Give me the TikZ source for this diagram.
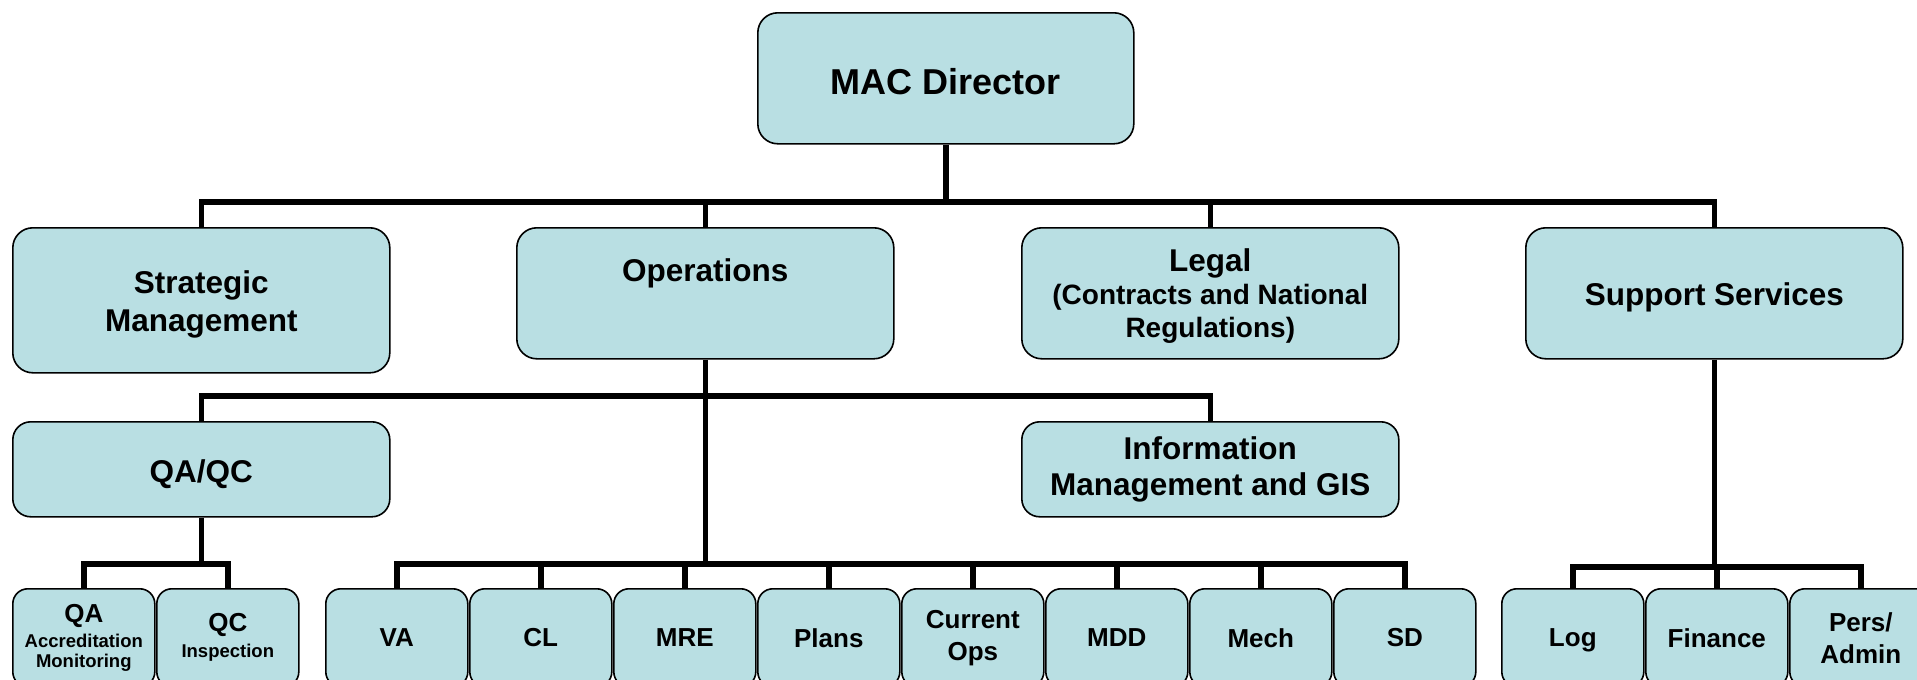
\documentclass[tikz,border=0pt]{standalone}
\usepackage{fontspec}
\setmainfont{Liberation Sans}
\definecolor{boxc}{RGB}{185,223,227}
\tikzset{
  box/.style={draw=black, line width=1.6pt, fill=boxc, inner sep=0pt, align=center, text=black, anchor=north west},
  bigbox/.style={box, rounded corners=20pt, minimum width=377pt, minimum height=131pt, font={\fontsize{31.5}{38}\selectfont\bfseries}},
  midbox/.style={box, rounded corners=18pt, minimum width=377pt, minimum height=95pt, font={\fontsize{31.5}{36}\selectfont\bfseries}},
  smallbox/.style={box, rounded corners=15pt, minimum width=142pt, minimum height=98pt, font={\fontsize{26}{32}\selectfont\bfseries}},
  conn/.style={line width=5.5pt, line join=miter, black}
}
\begin{document}
\begin{tikzpicture}[x=1pt, y=-1pt]
\useasboundingbox (0,0) rectangle (1917,680);
\clip (0,0) rectangle (1917,680);
\fill[white] (0,0) rectangle (1917,680);
% level 1
\node[bigbox, font={\fontsize{36}{40}\selectfont\bfseries}, minimum width=376pt, text height=32pt, text depth=0pt] (mac) at (757,12) {MAC Director};
% level 2
\node[bigbox, minimum height=145pt] (strat) at (12,227) {\rule{0pt}{31.5pt}Strategic\\Management};
\node[bigbox] (ops) at (516,227) {Operations\\\rule[-8pt]{0pt}{0pt}};
\node[bigbox, font={\fontsize{28}{33}\selectfont\bfseries}] (legal) at (1021,227) {{\fontsize{31.5}{33}\selectfont\rule{0pt}{29pt}Legal}\\(Contracts and National\\Regulations)};
\node[bigbox, text height=31pt, text depth=6.6pt] (support) at (1525,227) {Support Services};
% level 3
\node[midbox, text height=28pt, text depth=1.5pt] (qaqc) at (12,421) {QA/QC};
\node[midbox] (info) at (1021,421) {Information\\Management and GIS};
% level 4
\node[smallbox, font={\fontsize{18.5}{20}\selectfont\bfseries}] (qa) at (12,588) {{\fontsize{26}{26}\selectfont QA}\\[5pt]Accreditation\\Monitoring};
\node[smallbox, font={\fontsize{18.5}{24}\selectfont\bfseries}] (qc) at (156,588) {{\fontsize{26}{26}\selectfont QC}\\[2pt]Inspection};
\node[smallbox] (va) at (325,588) {VA};
\node[smallbox] (cl) at (469,588) {CL};
\node[smallbox] (mre) at (613,588) {MRE};
\node[smallbox] (plans) at (757,588) {Plans};
\node[smallbox] (curops) at (901,588) {Current\\Ops};
\node[smallbox] (mdd) at (1045,588) {MDD};
\node[smallbox] (mech) at (1189,588) {Mech};
\node[smallbox] (sd) at (1333,588) {SD};
\node[smallbox, text height=19pt, text depth=1pt] (log) at (1501,588) {Log};
\node[smallbox] (fin) at (1645,588) {Finance};
\node[smallbox] (pers) at (1789,588) {Pers/\\Admin};
% bar coordinates
\coordinate (bara) at (0,202);
\coordinate (barb) at (0,396);
\coordinate (barc) at (0,564);
\coordinate (barq) at (0,564);
\coordinate (bars) at (0,567);
% top level connectors
\draw[conn] (strat.north) -- (strat.north |- bara) -- (support.north |- bara) -- (support.north);
\draw[conn] (mac.south) -- (mac.south |- bara);
\draw[conn] (ops.north) -- (ops.north |- bara);
\draw[conn] (legal.north) -- (legal.north |- bara);
% operations connectors
\draw[conn] (qaqc.north) -- (qaqc.north |- barb) -- (info.north |- barb) -- (info.north);
\draw[conn] (ops.south) -- (ops.south |- barc);
\draw[conn] (va.north) -- (va.north |- barc) -- (sd.north |- barc) -- (sd.north);
\foreach \n in {cl,mre,plans,curops,mdd,mech}
  \draw[conn] (\n.north) -- (\n.north |- barc);
% QA/QC connectors
\draw[conn] (qa.north) -- (qa.north |- barq) -- (qc.north |- barq) -- (qc.north);
\draw[conn] (qaqc.south) -- (qaqc.south |- barq);
% support connectors
\draw[conn] (log.north) -- (log.north |- bars) -- (pers.north |- bars) -- (pers.north);
\draw[conn] (support.south) -- (support.south |- bars);
\draw[conn] (fin.north) -- (fin.north |- bars);
\end{tikzpicture}
\end{document}
